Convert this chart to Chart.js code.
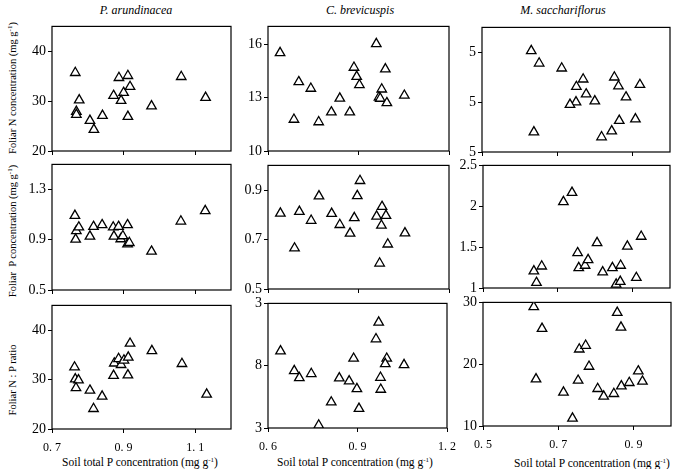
<!DOCTYPE html>
<html>
<head>
<meta charset="utf-8">
<script src="https://cdn.jsdelivr.net/npm/chart.js@4"></script>
<style>
body { margin: 0; background: #fff; width: 675px; height: 469px; position: relative; overflow: hidden; font-family: "Liberation Serif", serif; }
canvas { position: absolute; }
.t { position: absolute; white-space: nowrap; color: #000; font-size: 11.5px; transform: translate(-50%, -50%); }
.sp { font-style: italic; font-size: 12px; }
.rot { font-size: 10.5px; transform: translate(-50%, -50%) rotate(-90deg); }
sup { font-size: 7px; }
</style>
</head>
<body>
<div class="t sp" style="left:136px;top:10px">P. arundinacea</div>
<div class="t sp" style="left:360px;top:10px">C. brevicuspis</div>
<div class="t sp" style="left:563px;top:10px">M. sacchariflorus</div>

<div class="t rot" style="left:12px;top:88px">Foliar N concentration (mg g<sup>-1</sup>)</div>
<div class="t rot" style="left:12px;top:231px">Foliar&nbsp; P concentration (mg g<sup>-1</sup>)</div>
<div class="t rot" style="left:12px;top:380px">Foliar N : P ratio</div>

<div class="t" style="left:140px;top:462px">Soil total P concentration (mg g<sup>-1</sup>)</div>
<div class="t" style="left:355px;top:462px">Soil total P concentration (mg g<sup>-1</sup>)</div>
<div class="t" style="left:592px;top:463px">Soil total P concentration (mg g<sup>-1</sup>)</div>

<script>
// soil total P (x) and foliar values (y) per species

// P. arundinacea
const paSoilN = [0.765, 0.776, 0.768, 0.768, 0.806, 0.817, 0.841, 0.872, 0.887, 0.900, 0.893, 0.912, 0.918, 0.912, 0.978, 1.061, 1.129];
const paFoliarN = [35.7, 30.2, 27.9, 27.3, 26.1, 24.3, 27.1, 31.1, 34.7, 31.7, 30.1, 35.1, 32.9, 26.9, 29.0, 34.9, 30.7];
const paSoilP = [0.764, 0.768, 0.775, 0.766, 0.806, 0.816, 0.840, 0.871, 0.873, 0.886, 0.892, 0.898, 0.911, 0.911, 0.916, 0.978, 1.060, 1.128];
const paFoliarP = [1.092, 0.970, 1.000, 0.903, 0.927, 1.004, 1.018, 1.000, 0.927, 1.004, 0.906, 0.930, 1.018, 0.866, 0.876, 0.807, 1.047, 1.130];
const paSoilNP = [0.763, 0.765, 0.774, 0.767, 0.806, 0.816, 0.840, 0.872, 0.874, 0.886, 0.893, 0.901, 0.913, 0.912, 0.918, 0.979, 1.063, 1.132];
const paRatio = [32.5, 30.1, 29.9, 28.3, 27.8, 24.1, 26.6, 30.8, 33.3, 34.2, 33.0, 33.9, 34.5, 30.9, 37.3, 35.8, 33.2, 27.0];

// C. brevicuspis
const cbSoilN = [0.640, 0.702, 0.686, 0.742, 0.768, 0.810, 0.838, 0.871, 0.885, 0.894, 0.903, 0.959, 0.977, 0.968, 0.972, 0.989, 0.994, 1.052];
const cbFoliarN = [15.51, 13.88, 11.77, 13.51, 11.63, 12.18, 12.96, 12.18, 14.69, 14.18, 13.71, 16.02, 13.47, 13.02, 12.95, 14.60, 12.70, 13.12];
const cbSoilP = [0.641, 0.704, 0.688, 0.743, 0.769, 0.811, 0.838, 0.872, 0.886, 0.896, 0.905, 0.960, 0.978, 0.976, 0.991, 0.970, 0.997, 1.054];
const cbFoliarP = [0.806, 0.813, 0.665, 0.777, 0.876, 0.805, 0.760, 0.725, 0.788, 0.877, 0.938, 0.794, 0.833, 0.757, 0.797, 0.604, 0.681, 0.726];
const cbSoilNP = [0.642, 0.688, 0.705, 0.745, 0.770, 0.812, 0.839, 0.872, 0.887, 0.898, 0.905, 0.962, 0.971, 0.977, 0.978, 0.998, 0.993, 1.056];
const cbRatio = [19.17, 17.59, 17.02, 17.35, 13.22, 15.07, 17.00, 16.76, 18.58, 16.14, 14.56, 20.14, 21.48, 17.05, 16.09, 18.58, 18.15, 18.07];

// M. sacchariflorus
const msSoilN = [0.631, 0.652, 0.712, 0.769, 0.751, 0.777, 0.750, 0.734, 0.800, 0.638, 0.852, 0.863, 0.883, 0.865, 0.908, 0.845, 0.818, 0.920];
const msFoliarN = [35.3, 32.8, 31.8, 29.6, 28.1, 26.6, 25.0, 24.5, 25.2, 19.0, 30.0, 28.2, 26.0, 21.3, 21.6, 19.2, 18.0, 28.5];
const msSoilP = [0.715, 0.738, 0.636, 0.657, 0.643, 0.753, 0.756, 0.773, 0.781, 0.805, 0.820, 0.846, 0.868, 0.856, 0.867, 0.886, 0.910, 0.923];
const msFoliarP = [2.054, 2.167, 1.206, 1.266, 1.065, 1.429, 1.247, 1.275, 1.344, 1.553, 1.194, 1.247, 1.275, 1.045, 1.078, 1.509, 1.126, 1.630];
const msSoilNP = [0.635, 0.657, 0.641, 0.714, 0.738, 0.753, 0.756, 0.773, 0.782, 0.805, 0.821, 0.848, 0.857, 0.867, 0.868, 0.889, 0.913, 0.924];
const msRatio = [29.26, 25.76, 17.58, 15.44, 11.24, 17.37, 22.42, 23.02, 19.63, 16.03, 14.79, 15.22, 28.34, 25.97, 16.45, 17.00, 18.87, 17.21];

// axis ranges and ticks
const paXRange = [0.7, 1.2], paXTicks = [0.7, 0.9, 1.1], paXLabels = ['0. 7', '0. 9', '1. 1'];
const cbXRange = [0.6, 1.2], cbXTicks = [0.6, 0.9, 1.2], cbXLabels = ['0. 6', '0. 9', '1. 2'];
const msXRange = [0.5, 1.0], msXTicks = [0.5, 0.7, 0.9], msXLabels = ['0. 5', '0. 7', '0. 9'];

const paNRange = [20, 45], paNTicks = [20, 30, 40], paNLabels = ['20', '30', '40'];
const cbNRange = [10, 17], cbNTicks = [10, 13, 16], cbNLabels = ['10', '13', '16'];
const msNRange = [15, 40], msNTicks = [15, 25, 35], msNLabels = ['5', '5', '5'];
const paPRange = [0.5, 1.5], paPTicks = [0.5, 0.9, 1.3], paPLabels = ['0.5', '0.9', '1.3'];
const cbPRange = [0.5, 1.0], cbPTicks = [0.5, 0.7, 0.9], cbPLabels = ['0.5', '0.7', '0.9'];
const msPRange = [1, 2.5], msPTicks = [1, 1.5, 2, 2.5], msPLabels = ['1', '1.5', '2', '2.5'];
const paRRange = [20, 45], paRTicks = [20, 30, 40], paRLabels = ['20', '30', '40'];
const cbRRange = [13, 23], cbRTicks = [13, 18, 23], cbRLabels = ['3', '8', '3'];
const msRRange = [10, 30], msRTicks = [10, 20, 30], msRLabels = ['10', '20', '30'];

// plot boxes on the page: left, top, right, bottom
const panels = [
    { box: [52, 26, 231, 151], x: paSoilN, y: paFoliarN, xr: paXRange, xt: paXTicks, xl: null, yr: paNRange, yt: paNTicks, yl: paNLabels },
    { box: [268, 26, 449, 151], x: cbSoilN, y: cbFoliarN, xr: cbXRange, xt: cbXTicks, xl: null, yr: cbNRange, yt: cbNTicks, yl: cbNLabels },
    { box: [482, 27, 670, 152], x: msSoilN, y: msFoliarN, xr: msXRange, xt: msXTicks, xl: null, yr: msNRange, yt: msNTicks, yl: msNLabels },
    { box: [52, 164, 231, 290], x: paSoilP, y: paFoliarP, xr: paXRange, xt: paXTicks, xl: null, yr: paPRange, yt: paPTicks, yl: paPLabels },
    { box: [268, 165, 449, 289], x: cbSoilP, y: cbFoliarP, xr: cbXRange, xt: cbXTicks, xl: null, yr: cbPRange, yt: cbPTicks, yl: cbPLabels },
    { box: [483, 165, 670, 288], x: msSoilP, y: msFoliarP, xr: msXRange, xt: msXTicks, xl: null, yr: msPRange, yt: msPTicks, yl: msPLabels },
    { box: [52, 305, 231, 429], x: paSoilNP, y: paRatio, xr: paXRange, xt: paXTicks, xl: paXLabels, yr: paRRange, yt: paRTicks, yl: paRLabels },
    { box: [268, 303, 449, 428], x: cbSoilNP, y: cbRatio, xr: cbXRange, xt: cbXTicks, xl: cbXLabels, yr: cbRRange, yt: cbRTicks, yl: cbRLabels },
    { box: [483, 302, 671, 426], x: msSoilNP, y: msRatio, xr: msXRange, xt: msXTicks, xl: msXLabels, yr: msRRange, yt: msRTicks, yl: msRLabels }
];

const frame = {
    id: 'frame',
    beforeDatasetsDraw(chart) {
        const a = chart.chartArea;
        const ctx = chart.ctx;
        ctx.save();
        ctx.strokeStyle = '#000';
        ctx.lineWidth = 1.2;
        ctx.strokeRect(a.left, a.top, a.right - a.left, a.bottom - a.top);
        ctx.restore();
    }
};

const AXIS_W = 45, AXIS_H = 30, PAD_TOP = 10, PAD_RIGHT = 15;

for (let p of panels) {
    const [l, t, r, b] = p.box;
    const canvas = document.createElement('canvas');
    canvas.width = r - l + AXIS_W + PAD_RIGHT;
    canvas.height = b - t + PAD_TOP + AXIS_H;
    canvas.style.left = (l - AXIS_W) + 'px';
    canvas.style.top = (t - PAD_TOP) + 'px';
    document.body.append(canvas);

    const points = p.x.map((v, i) => ({ x: v, y: p.y[i] }));

    new Chart(canvas.getContext('2d'), {
        type: 'scatter',
        data: {
            datasets: [{
                data: points,
                pointStyle: 'triangle',
                radius: 5.5,
                backgroundColor: '#fff',
                borderColor: '#000',
                borderWidth: 1.3
            }]
        },
        options: {
            responsive: false,
            animation: false,
            layout: { padding: { left: 0, top: PAD_TOP, right: PAD_RIGHT, bottom: 0 } },
            plugins: { legend: { display: false }, tooltip: { enabled: false } },
            scales: {
                x: {
                    type: 'linear',
                    min: p.xr[0],
                    max: p.xr[1],
                    afterBuildTicks: s => { s.ticks = p.xt.map(v => ({ value: v })); },
                    afterFit: s => { s.height = AXIS_H; },
                    ticks: {
                        callback: (v, i) => p.xl ? p.xl[i] : '',
                        font: { family: 'Liberation Serif', size: 12 },
                        color: '#000',
                        padding: 8,
                        maxRotation: 0,
                        autoSkip: false
                    },
                    grid: { drawOnChartArea: false, tickLength: 4, color: '#000' },
                    border: { display: false }
                },
                y: {
                    type: 'linear',
                    min: p.yr[0],
                    max: p.yr[1],
                    afterBuildTicks: s => { s.ticks = p.yt.map(v => ({ value: v })); },
                    afterFit: s => { s.width = AXIS_W; },
                    ticks: {
                        callback: (v, i) => p.yl[i],
                        font: { family: 'Liberation Serif', size: 14 },
                        color: '#000',
                        padding: 2,
                        autoSkip: false
                    },
                    grid: { drawOnChartArea: false, tickLength: 4, color: '#000' },
                    border: { display: false }
                }
            }
        },
        plugins: [frame]
    });
}
</script>
</body>
</html>
